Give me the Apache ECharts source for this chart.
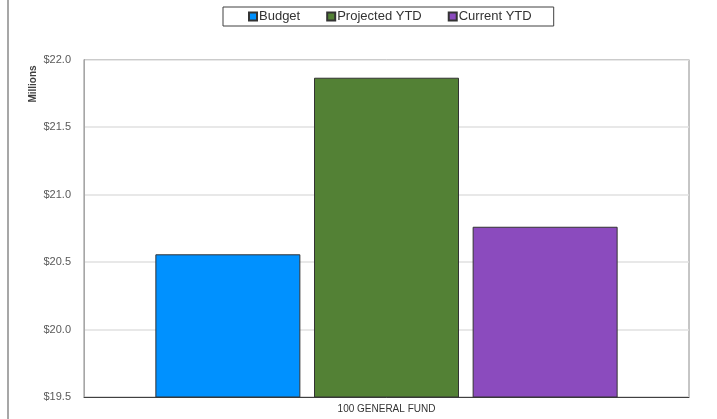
<!DOCTYPE html>
<html>
<head>
<meta charset="utf-8">
<script src="https://cdn.jsdelivr.net/npm/echarts@6/dist/echarts.min.js"></script>
<style>
  html, body { margin: 0; padding: 0; background: #fff; }
  #chart { width: 717px; height: 419px; }
</style>
</head>
<body>
<div id="chart"></div>
<script>
// Fund totals, in millions of dollars
const categories = ['100 GENERAL FUND'];
const seriesNames = ['Budget', 'Projected YTD', 'Current YTD'];
const budget = [20.557];
const projectedYtd = [21.865];
const currentYtd = [20.761];
const seriesColors = ['#0091FF', '#538135', '#8B4BBE'];
const yMin = 19.5, yMax = 22.0, yStep = 0.5;

const seriesValues = [budget, projectedYtd, currentYtd];

const chart = echarts.init(document.getElementById('chart'), null, { renderer: 'canvas' });

chart.setOption({
  animation: false,
  textStyle: { fontFamily: 'Liberation Sans, Arial, sans-serif' },
  legend: {
    data: seriesNames.map(n => ({ name: n, icon: 'rect' })),
    left: 223,
    top: 7,
    padding: [3, 22, 3, 25],
    itemGap: 26,
    itemWidth: 8,
    itemHeight: 8,
    borderColor: '#404040',
    borderWidth: 1,
    textStyle: { fontSize: 13, color: '#333', padding: [0, 0, 0, -3] }
  },
  grid: {
    left: 84, right: 28, top: 59.5, bottom: 22,
    show: true, borderColor: '#8c8c8c', borderWidth: 1
  },
  xAxis: {
    type: 'category',
    data: categories,
    axisLine: { show: true, lineStyle: { color: '#404040', width: 1 } },
    axisTick: { show: false },
    axisLabel: { fontSize: 10, color: '#333', margin: 7 }
  },
  yAxis: {
    type: 'value',
    min: yMin, max: yMax, interval: yStep,
    axisLine: { show: true, lineStyle: { color: '#a6a6a6' } },
    axisTick: { show: false },
    splitLine: { lineStyle: { color: '#e0e0e0', width: 1.5 } },
    axisLabel: {
      fontSize: 11, color: '#595959', margin: 13,
      formatter: v => '$' + v.toFixed(1)
    }
  },
  series: seriesNames.map((name, i) => ({
    name: name,
    type: 'bar',
    data: seriesValues[i],
    barWidth: 145,
    barGap: '9.4%',
    itemStyle: { color: seriesColors[i], borderColor: '#333', borderWidth: 1 }
  })),
  graphic: [
    {
      type: 'line',
      shape: { x1: 8, y1: 0, x2: 8, y2: 419 },
      style: { stroke: '#8a8a8a', lineWidth: 1.5 }
    },
    {
      type: 'text',
      x: 33, y: 84,
      rotation: Math.PI / 2,
      style: {
        text: 'Millions',
        font: 'bold 10px Liberation Sans, Arial, sans-serif',
        fill: '#404040',
        textAlign: 'center',
        textVerticalAlign: 'middle'
      }
    }
  ]
});
</script>
</body>
</html>
